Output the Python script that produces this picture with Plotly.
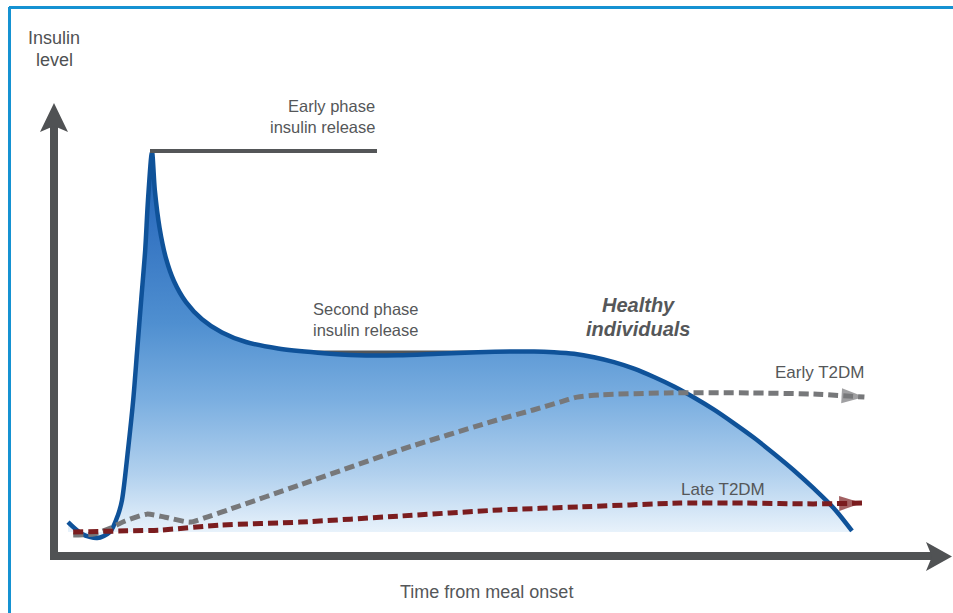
import plotly.graph_objects as go

W, H = 953, 613

# ---- data (time from meal onset: 0-100, insulin level: 0-100) ----
healthy_t = [1.75, 3.5, 5.4, 7.0, 8.0, 8.5, 9.25, 9.9, 10.4, 10.9, 11.4, 11.75, 12.25,
             12.6, 13.2, 14.0, 15.0, 16.5, 18.5, 21.0, 24.0, 28.0, 33.0, 38.0, 43.0,
             48.0, 53.0, 57.5, 60.0, 62.5, 65.0, 67.5, 70.0, 72.5, 75.0, 77.5, 80.0,
             82.5, 85.0, 87.5, 90.0, 92.5, 95.0, 97.5, 99.75]
healthy_level = [2.6, -0.5, -1.6, 0.0, 4.5, 8.4, 21.6, 34.7, 47.9, 61.1, 74.2, 87.4, 100.0,
                 90.0, 80.0, 72.0, 66.0, 60.5, 56.0, 52.5, 50.0, 48.3, 47.2, 46.5, 46.5,
                 46.9, 47.3, 47.5, 47.5, 47.3, 46.9, 46.0, 44.7, 43.0, 40.8, 38.3, 35.4,
                 32.2, 28.6, 24.8, 20.6, 16.2, 11.4, 6.2, 0.3]

early_t = [2.4, 5.1, 7.0, 8.9, 11.6, 13.9, 17.0, 19.5, 22.0, 30.75, 43.25, 55.75,
           59.9, 63.25, 65.4, 68.25, 76.6, 87.0, 94.9, 101.3]
early_level = [-0.8, -0.5, 1.0, 2.9, 4.7, 3.9, 2.6, 4.2, 6.0, 12.4, 21.6, 29.7,
               32.1, 34.2, 35.5, 36.1, 36.6, 36.6, 36.3, 35.5]

late_t = [2.4, 9.1, 13.25, 20.75, 30.75, 43.25, 55.75, 65.75, 78.25, 86.6, 94.9, 101.0]
late_level = [0.0, 0.3, 0.5, 1.8, 2.6, 4.2, 5.8, 6.6, 7.6, 7.6, 7.4, 7.6]

# axis ranges chosen so the plot area spans the whole canvas
X_RANGE = [-6.75, 112.375]
Y_RANGE = [-21.316, 140.0]

def px(x):  # pixel -> paper x
    return x / W

def py(y):  # pixel -> paper y
    return 1 - y / H

GRAY_TXT = "#555759"
AXIS_COL = "#505254"

fig = go.Figure()

fig.add_trace(go.Scatter(
    x=healthy_t, y=healthy_level, mode="lines",
    line=dict(color="#0f5299", width=4.5, shape="spline", smoothing=0.8),
    fill="tozeroy",
    fillgradient=dict(type="vertical", start=0, stop=100,
                      colorscale=[[0.0, "#e8f2fb"], [0.15, "#b2d1ee"], [0.35, "#7aaee0"],
                                  [0.55, "#4f8fd0"], [0.8, "#3474c2"], [1.0, "#1d60af"]]),
    hoverinfo="skip", showlegend=False))

def dashed(xs, ys, col):
    n = len(xs)
    fig.add_trace(go.Scatter(
        x=xs, y=ys, mode="lines+markers",
        line=dict(color=col, width=5, dash="10px,5px", shape="spline", smoothing=0.6),
        marker=dict(symbol="arrow", angleref="previous", color=col,
                    size=[0] * (n - 1) + [24], line=dict(width=0)),
        hoverinfo="skip", showlegend=False))

dashed(early_t, early_level, "#77787a")
dashed(late_t, late_level, "#7b1d1f")

shapes = []
# border
shapes.append(dict(type="line", xref="paper", yref="paper", x0=px(9), x1=px(953), y0=py(7.5), y1=py(7.5),
                   line=dict(color="#1592d2", width=3)))
shapes.append(dict(type="line", xref="paper", yref="paper", x0=px(9.5), x1=px(9.5), y0=py(7), y1=py(613),
                   line=dict(color="#1592d2", width=3)))
# axes shafts
shapes.append(dict(type="line", xref="paper", yref="paper", x0=px(54), x1=px(54), y0=py(560), y1=py(122),
                   line=dict(color=AXIS_COL, width=8)))
shapes.append(dict(type="line", xref="paper", yref="paper", x0=px(50), x1=px(934), y0=py(556), y1=py(556),
                   line=dict(color=AXIS_COL, width=8)))
# arrowheads
def path(pts):
    return "M " + " L ".join(f"{px(a):.5f},{py(b):.5f}" for a, b in pts) + " Z"
shapes.append(dict(type="path", xref="paper", yref="paper",
                   path=path([(54, 103), (68, 132), (54, 126), (40, 132)]),
                   fillcolor=AXIS_COL, line=dict(width=0)))
shapes.append(dict(type="path", xref="paper", yref="paper",
                   path=path([(952, 556.5), (926, 571), (932, 556.5), (926, 542)]),
                   fillcolor=AXIS_COL, line=dict(width=0)))
# phase marker lines
shapes.append(dict(type="line", xref="paper", yref="paper", x0=px(150), x1=px(377), y0=py(151), y1=py(151),
                   line=dict(color="#545658", width=4)))
shapes.append(dict(type="line", xref="paper", yref="paper", x0=px(312), x1=px(545), y0=py(352.5), y1=py(352.5),
                   line=dict(color="#545658", width=4), layer="below"))

ann = []
def txt(t, x, y, size, anchor="center", italic=False, col=GRAY_TXT):
    ann.append(dict(text=f"<b><i>{t}</i></b>" if italic else t,
                    x=px(x), y=py(y), xref="paper", yref="paper", showarrow=False,
                    xanchor=anchor, yanchor="middle",
                    font=dict(family="Liberation Sans, Arial, sans-serif", size=size, color=col)))

txt("Insulin", 54, 38, 18, col="#4f5153")
txt("level", 54, 60, 18, col="#4f5153")
txt("Early phase", 377, 106, 16.5, anchor="right")
txt("insulin release", 377, 127, 16.5, anchor="right")
txt("Second phase", 311, 309, 16.5, anchor="left")
txt("insulin release", 311, 330, 16.5, anchor="left")
txt("Healthy", 638, 305, 20, italic=True)
txt("individuals", 638, 329, 20, italic=True)
txt("Early T2DM", 866, 372, 17, anchor="right")
txt("Late T2DM", 723, 489, 17)
txt("Time from meal onset", 487, 592, 18)

fig.update_layout(
    width=W, height=H, margin=dict(l=0, r=0, t=0, b=0),
    paper_bgcolor="white", plot_bgcolor="white",
    xaxis=dict(range=X_RANGE, visible=False, fixedrange=True),
    yaxis=dict(range=Y_RANGE, visible=False, fixedrange=True),
    shapes=shapes, annotations=ann, showlegend=False,
)

fig.write_html("out.html", config={"displayModeBar": False},
               post_script="document.body.style.margin='0px';document.body.style.padding='0px';")
